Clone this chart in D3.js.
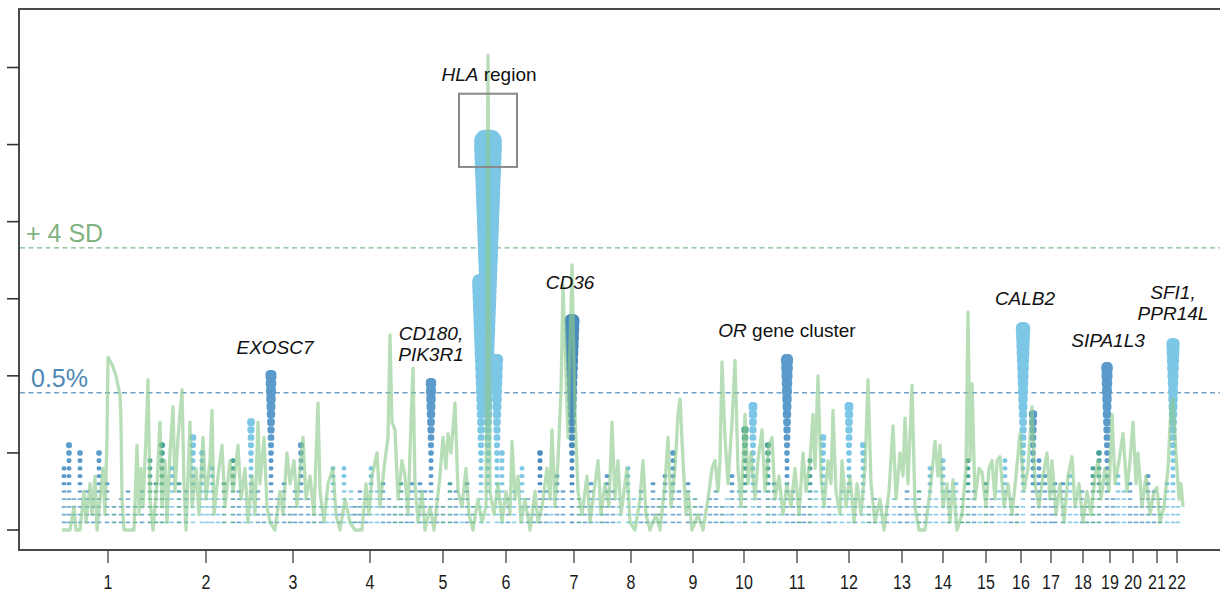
<!DOCTYPE html>
<html>
<head>
<meta charset="utf-8">
<script src="https://cdn.jsdelivr.net/npm/d3@7"></script>
<style>
  body { margin: 0; background: #fff; }
  svg { display: block; font-family: "Liberation Sans", Arial, sans-serif; }
</style>
</head>
<body>
<svg id="chart" width="1220" height="592"></svg>
<script>
// Genome positions are expressed in ~2.55 Mb bins from the start of chromosome 1.
const chromosomes = ["1","2","3","4","5","6","7","8","9","10","11","12","13","14","15","16","17","18","19","20","21","22"];
const chromosomeMidBins = [49,147,234,311,384,447,515,572,634,685,738,790,843,884,927,962,992,1024,1051,1074,1098,1118];
const genomeBins = [0, 1128];

// Count axis ticks (unlabelled)
const countTicks = [0,10,20,30,40,50,60];

// Loci: bin position, number of stacked hits, colour tone
const lociBin = [
  5,10,21,40,48,91,103,113,134,143,153,174,192,212,225,242,274,285,301,312,324,353,361,372,391,408,
  422,429,438,443,463,481,498,513,548,569,606,614,629,651,673,686,694,709,728,751,764,790,804,848,
  871,884,897,909,946,964,974,980,986,996,1004,1011,1034,1040,1048,1059,1071,1089,1108,1114,
  15,28,34,55,62,69,76,83,97,108,120,127,148,159,165,180,186,199,205,218,231,236,249,255,262,268,
  280,292,296,307,318,330,336,342,348,366,378,384,397,403,414,449,455,469,475,487,492,504,520,526,
  532,538,543,554,560,575,582,588,594,600,620,636,642,657,663,668,680,700,715,721,734,740,745,757,
  770,776,783,796,810,816,822,828,835,841,854,860,866,877,890,903,915,921,927,933,940,952,958,992,
  1017,1023,1028,1054,1065,1077,1083,1095,1101,1119
];
const lociCount = [
  8,11,10,10,6,9,11,8,12,10,8,9,14,20,6,11,8,8,5,8,6,6,6,19,6,6,
  32,50,22,10,8,10,7,27,7,8,7,10,6,4,7,13,16,11,22,9,12,16,11,5,
  8,9,6,9,9,26,15,9,7,6,6,7,8,10,21,7,6,7,6,24,
  4,5,4,3,4,5,3,5,6,4,6,5,5,4,6,5,4,5,3,4,3,5,4,3,3,4,
  3,5,3,4,5,4,3,6,4,5,4,3,5,4,3,4,5,4,3,5,4,5,4,3,
  6,4,3,5,4,4,5,3,6,4,5,4,3,5,3,4,5,5,6,4,5,4,3,5,
  4,3,5,4,3,4,3,3,4,3,4,5,3,4,5,4,5,3,6,4,5,4,3,5,
  4,5,3,4,5,3,4,5,4,3
];
const lociTone = [
  "M","M","M","M","M","T","T","L","L","L","L","T","L","M","M","M","L","L","M","L","M","M","M","M","T","M",
  "L","L","L","L","L","S","M","S","M","L","M","M","M","M","M","T","L","T","M","T","L","L","L","M",
  "L","L","L","T","L","L","M","M","M","M","M","L","T","T","M","L","M","M","L","L",
  "M","M","M","T","M","M","T","M","T","L","T","M","L","L","T","M","L","M","M","M","T","M","M","T","M","L",
  "M","L","T","M","L","M","T","T","M","M","M","T","M","L","T","M","L","M","M","M","L","M","T","M",
  "M","L","T","M","L","L","M","T","M","T","M","T","M","M","T","L","L","M","M","L","M","T","M","L",
  "M","L","L","M","T","M","L","M","L","M","L","T","M","L","M","T","M","L","T","M","L","M","T","M",
  "L","M","T","M","L","M","M","M","T","L"
];
const toneColours = { L: "#7cc6e6", M: "#5b9bcb", S: "#4a8bbd", T: "#46a09b" };

// Smoothed score track (same count units)
const trackBin = [
  3,11,15,17,21,25,27,31,33,36,38,41,44,46,48,49,53,57,61,62,63,65,75,78,80,82,84,87,89,91,94,98,101,103,106,108,111,114,116,119,
  123,125,127,131,133,137,140,144,147,151,153,155,159,163,166,171,174,179,182,186,189,193,196,199,201,205,208,211,216,221,224,228,231,235,238,241,244,247,251,255,
  259,261,265,269,274,277,281,286,291,296,303,307,310,313,318,321,325,329,331,333,336,339,343,346,349,352,354,356,359,363,366,371,375,381,384,387,389,392,396,399,
  403,407,410,414,419,423,427,429,431,435,439,443,447,451,453,456,459,462,466,471,476,479,483,488,491,493,496,499,502,504,507,509,511,513,516,519,523,528,531,535,
  539,542,546,550,553,556,559,562,565,568,571,576,581,584,587,591,597,601,606,609,612,616,619,621,624,627,629,633,639,644,649,653,656,659,661,663,666,669,673,676,
  679,682,686,689,692,696,699,703,706,710,713,716,720,724,728,732,736,740,744,747,751,754,756,759,762,765,769,772,774,777,781,783,787,791,795,798,802,806,809,812,
  816,821,825,830,834,837,841,844,846,849,853,856,860,866,871,876,879,881,884,888,891,894,898,903,907,909,911,913,916,920,923,927,930,933,936,938,941,945,949,953,
  957,961,965,969,973,976,980,984,988,991,993,997,1001,1005,1009,1013,1016,1020,1024,1028,1032,1036,1039,1042,1046,1050,1053,1056,1060,1064,1068,1071,1074,1077,1079,1083,1087,1091,1095,1098,
  1101,1105,1109,1112,1114,1117,1120,1122,1124
];
const trackValue = [
  0,0,3,0,0,5,1,6,2,7,0,4,8,2,12,22.4,21.5,20,17.5,14,4,0,0,11,2,8,3,12,19.5,4,0,6,14,3,9,1,10,16,5,12,
  18.2,6,0,14,3,8,2,12,4,9,15.5,2,7,11,3,9,5,11,4,8,1,7,2,14,6,12,3,1,0,5,2,10,6,9,3,8,12,4,7,2,
  16.5,5,1,6,8,2,0,4,1,0,0,6,2,7,10,3,8,12,25.3,14,13,4,9,7,2,14,21,6,1,5,0,3,0,7,12,8,12.5,10,16.5,5,
  3,8,2,0,4,1,3,61.6,5,2,6,1,5,2,11.5,4,7,1,4,0,5,1,3,8,4,13,3,9,18,31.8,20,12,24,34.4,15,5,2,7,1,5,
  9,2,6,3,14,4,9,2,5,8,1,0,4,9,2,0,2,0,6,12,3,8,15,17,9,2,5,0,2,0,4,8,9,5,9,21.8,12,6,14,22,
  8,3,15,6,10,4,9,13,5,11,12,4,7,2,6,3,8,2,10,5,9,15,8,20,7,3,9,6,15.5,5,2,9,3,7,1,6,2,8,19.5,6,
  1,4,0,5,13.5,4,10,7,14.5,6,18.8,3,0,0,5,11.5,7,11,3,6,1,6.5,0,2,8,28.3,9,19,4,8,7.5,3,8,9,4,9,9.5,3,6,2,
  7,12.5,5,8,16,6,3,7,10,4,9,2,6,1,7,9.5,3,6,1,5,2,7,9,4,8,5,15,6,9,12.5,5,9,14,6,10,3,7,2,5,5.5,
  1,3,8,16,17,10,4,6,3
];

// Reference thresholds (count units)
const thresholds = [
  { label: "+ 4 SD", value: 36.6, colour: "#7dbb86", text: "#7fb37f" },
  { label: "0.5%", value: 17.8, colour: "#6fa2c6", text: "#4d88b4" }
];

// Gene annotations: position, height, lines of text (italic flag per part)
const geneLabels = [
  { bin: 216, count: 22.8, lines: [[["EXOSC7", true]]] },
  { bin: 372, count: 24.7, lines: [[["CD180,", true]], [["PIK3R1", true]]] },
  { bin: 430, count: 58.3, lines: [[["HLA", true], [" region", false]]] },
  { bin: 511, count: 31.3, lines: [[["CD36", true]]] },
  { bin: 728, count: 25.0, lines: [[["OR", true], [" gene cluster", false]]] },
  { bin: 966, count: 29.2, lines: [[["CALB2", true]]] },
  { bin: 1049, count: 23.75, lines: [[["SIPA1L3", true]]] },
  { bin: 1114, count: 30.0, lines: [[["SFI1,", true]], [["PPR14L", true]]] }
];

// Highlighted region around the HLA peak
const hlaBox = { bin0: 400, bin1: 458, count0: 47.1, count1: 56.6 };

const svg = d3.select("#chart");
const W = 1220, frameLeft = 19, frameTop = 9, frameBottom = 550;

const x = d3.scaleLinear().domain(genomeBins).range([59, 1187]);
const y = d3.scaleLinear().domain([0, 60]).range([530, 67.5]);

// Frame
svg.append("path")
  .attr("d", `M${W + 5},${frameTop}H${frameLeft}V${frameBottom}H${W + 5}`)
  .attr("fill", "none").attr("stroke", "#4a4a4a").attr("stroke-width", 2);

// Left ticks
svg.append("g").selectAll("line").data(countTicks).join("line")
  .attr("x1", 7).attr("x2", frameLeft)
  .attr("y1", d => y(d)).attr("y2", d => y(d))
  .attr("stroke", "#333").attr("stroke-width", 1.6);

// Bottom ticks and chromosome labels
const xAxis = svg.append("g");
xAxis.selectAll("line").data(chromosomeMidBins).join("line")
  .attr("x1", d => x(d)).attr("x2", d => x(d))
  .attr("y1", frameBottom).attr("y2", 563)
  .attr("stroke", "#333").attr("stroke-width", 1.2);
xAxis.selectAll("text").data(chromosomes).join("text")
  .attr("transform", (d, i) => `translate(${x(chromosomeMidBins[i])},589) scale(0.8,1)`)
  .attr("text-anchor", "middle")
  .attr("font-size", 20).attr("fill", "#1a1a1a")
  .text(d => d);

// Threshold lines
const thr = svg.append("g");
thr.selectAll("line").data(thresholds).join("line")
  .attr("x1", frameLeft + 1).attr("x2", W)
  .attr("y1", d => y(d.value)).attr("y2", d => y(d.value))
  .attr("stroke", d => d.colour).attr("stroke-width", 1.4)
  .attr("stroke-dasharray", "5,3.5");
thr.selectAll("text").data(thresholds).join("text")
  .attr("x", (d, i) => i === 0 ? 26 : 31)
  .attr("y", d => y(d.value) - 6)
  .attr("font-size", 25).attr("fill", d => d.text)
  .text(d => d.label);

// Stacked loci
const markW = k => Math.max(4.8, 0.55 * k);
const markH = k => Math.max(1.7, 0.6 * k - 0.5);
const marks = [];
lociBin.forEach((b, i) => {
  for (let k = 1; k <= lociCount[i]; k++) {
    marks.push({ b, k, tone: lociTone[i] });
  }
});
svg.append("g").selectAll("rect").data(marks).join("rect")
  .attr("x", d => x(d.b) - markW(d.k) / 2)
  .attr("y", d => y(d.k) - markH(d.k) / 2)
  .attr("width", d => markW(d.k))
  .attr("height", d => markH(d.k))
  .attr("rx", d => Math.min(markW(d.k), markH(d.k)) * 0.4)
  .attr("fill", d => toneColours[d.tone])
  .attr("fill-opacity", d => d.k <= 5 ? 0.85 : 1);

// Score track
const line = d3.line().x(d => x(d[0])).y(d => y(d[1]));
svg.append("path")
  .datum(trackBin.map((b, i) => [b, trackValue[i]]))
  .attr("d", line)
  .attr("fill", "none")
  .attr("stroke", "#8cc98c").attr("stroke-opacity", 0.62)
  .attr("stroke-width", 3.3).attr("stroke-linejoin", "round");

// HLA box
svg.append("rect")
  .attr("x", x(hlaBox.bin0)).attr("y", y(hlaBox.count1))
  .attr("width", x(hlaBox.bin1) - x(hlaBox.bin0))
  .attr("height", y(hlaBox.count0) - y(hlaBox.count1))
  .attr("fill", "none").attr("stroke", "#8a8a8a").attr("stroke-width", 2);

// Gene labels
const gl = svg.append("g");
geneLabels.forEach(g => {
  g.lines.forEach((parts, li) => {
    const t = gl.append("text")
      .attr("x", x(g.bin))
      .attr("y", y(g.count) + li * 21)
      .attr("text-anchor", "middle")
      .attr("font-size", 19).attr("fill", "#111");
    parts.forEach(([s, it]) => {
      t.append("tspan").attr("font-style", it ? "italic" : "normal").text(s);
    });
  });
});
</script>
</body>
</html>
